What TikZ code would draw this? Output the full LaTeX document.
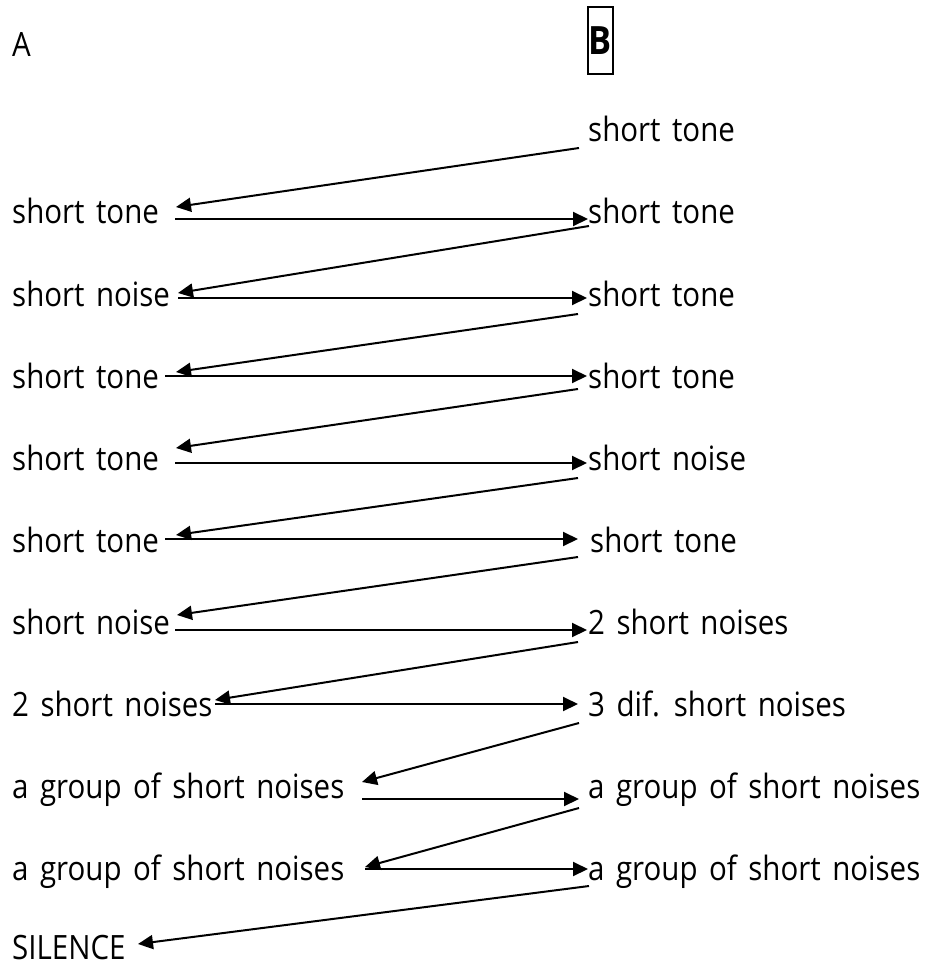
\documentclass[tikz,border=0pt]{standalone}
\usepackage{fontspec}
\setmainfont[FakeStretch=0.88, WordSpace=1.5]{Open Sans}
\usetikzlibrary{arrows.meta}

\begin{document}
\begin{tikzpicture}[x=1pt, y=-1pt,
  eintrag/.style={anchor=base west, inner sep=0pt, font=\fontsize{33.5}{40}\selectfont},
  pfeil/.style={-{Triangle[length=15pt, width=14pt]}, line width=2pt}]

  \useasboundingbox (0,0) rectangle (934,968);

  % --- Kopf ---
  \node[eintrag] (A) at (12,57) {A};
  \node[draw, line width=2pt, inner sep=0pt, minimum width=25pt, minimum height=67pt,
        font=\fontsize{39}{40}\selectfont\bfseries] (B) at (600.5,40.5) {B};

  % --- linke Spalte (Basislinie alle 82) ---
  \node[eintrag] (l2)  at (12,224) {short tone};
  \node[eintrag] (l3)  at (12,306) {short noise};
  \node[eintrag] (l4)  at (12,388) {short tone};
  \node[eintrag] (l5)  at (12,470) {short tone};
  \node[eintrag] (l6)  at (12,552) {short tone};
  \node[eintrag] (l7)  at (12,634) {short noise};
  \node[eintrag] (l8)  at (12,716) {2 short noises};
  \node[eintrag] (l9)  at (12,798) {a group of short noises};
  \node[eintrag] (l10) at (12,880) {a group of short noises};
  \node[eintrag] (l11) at (12,959) {SILENCE};

  % --- rechte Spalte ---
  \node[eintrag] (r1)  at (588,142) {short tone};
  \node[eintrag] (r2)  at (588,224) {short tone};
  \node[eintrag] (r3)  at (588,306) {short tone};
  \node[eintrag] (r4)  at (588,388) {short tone};
  \node[eintrag] (r5)  at (588,470) {short noise};
  \node[eintrag] (r6)  at (590,552) {short tone};
  \node[eintrag] (r7)  at (588,634) {2 short noises};
  \node[eintrag] (r8)  at (588,716) {3 dif. short noises};
  \node[eintrag] (r9)  at (588,798) {a group of short noises};
  \node[eintrag] (r10) at (588,880) {a group of short noises};

  % --- Pfeile nach rechts (A -> B) ---
  \draw[pfeil] ([shift={(163,-5)}]l2.base west)  -- ([shift={(0,-5)}]r2.base west);
  \draw[pfeil] ([shift={(166,-8)}]l3.base west)  -- ([shift={(-1,-8)}]r3.base west);
  \draw[pfeil] ([shift={(153,-12)}]l4.base west) -- ([shift={(-1,-12)}]r4.base west);
  \draw[pfeil] ([shift={(163,-7)}]l5.base west)  -- ([shift={(-1,-7)}]r5.base west);
  \draw[pfeil] ([shift={(153,-13)}]l6.base west) -- ([shift={(-12,-13)}]r6.base west);
  \draw[pfeil] ([shift={(163,-4)}]l7.base west)  -- ([shift={(-1,-4)}]r7.base west);
  \draw[pfeil] ([shift={(203,-12)}]l8.base west) -- ([shift={(-10,-12)}]r8.base west);
  \draw[pfeil] ([shift={(350,1)}]l9.base west)   -- ([shift={(-9,1)}]r9.base west);
  \draw[pfeil] ([shift={(353,-11)}]l10.base west) -- ([shift={(0,-11)}]r10.base west);

  % --- Pfeile schraeg zurueck (B -> A, eine Zeile tiefer) ---
  \draw[pfeil] ([shift={(-9,6)}]r1.base west)  -- ([shift={(164,-17)}]l2.base west);
  \draw[pfeil] ([shift={(1,2)}]r2.base west)   -- ([shift={(166,-13)}]l3.base west);
  \draw[pfeil] ([shift={(-10,8)}]r3.base west) -- ([shift={(164,-16)}]l4.base west);
  \draw[pfeil] ([shift={(-10,1)}]r4.base west) -- ([shift={(164,-22)}]l5.base west);
  \draw[pfeil] ([shift={(-10,8)}]r5.base west) -- ([shift={(164,-17)}]l6.base west);
  \draw[pfeil] ([shift={(-12,5)}]r6.base west) -- ([shift={(165,-19)}]l7.base west);
  \draw[pfeil] ([shift={(-10,8)}]r7.base west) -- ([shift={(203,-16)}]l8.base west);
  \draw[pfeil] ([shift={(-9,7)}]r8.base west)  -- ([shift={(350,-16)}]l9.base west);
  \draw[pfeil] ([shift={(-9,10)}]r9.base west) -- ([shift={(353,-13)}]l10.base west);
  \draw[pfeil] ([shift={(1,6)}]r10.base west)  -- ([shift={(126,-15)}]l11.base west);

\end{tikzpicture}
\end{document}
